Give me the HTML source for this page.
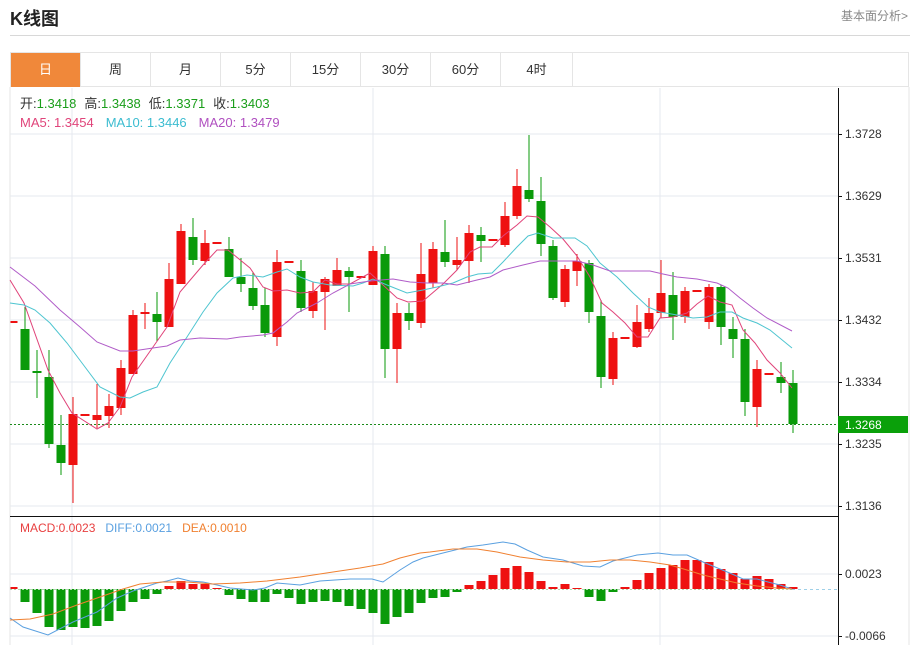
<!DOCTYPE html>
<html><head><meta charset="utf-8"><style>
html,body{margin:0;padding:0;background:#fff;width:916px;height:645px;overflow:hidden;font-family:"Liberation Sans","Noto Sans CJK SC",sans-serif}
#tit{position:absolute;left:10px;top:5px;font-size:18px;font-weight:bold;color:#222}
#more{position:absolute;right:8px;top:7px;font-size:12px;color:#888}
#sep{position:absolute;left:10px;top:35px;width:900px;height:1px;background:#d8d8d8}
#tabs{position:absolute;left:10px;top:52px;width:899px;height:35px;border:1px solid #e5e5e5;border-bottom:1px solid #e5e5e5;box-sizing:border-box}
.tab{position:absolute;top:0;height:34px;width:70px;border-right:1px solid #e5e5e5;text-align:center;line-height:34px;font-size:13px;color:#333;box-sizing:border-box}
svg{position:absolute;left:0;top:0}
</style></head><body>
<div id="tit">K线图</div><div id="more">基本面分析&gt;</div><div id="sep"></div>
<div id="tabs">
<div class="tab" style="left:0;background:#f0883a;color:#fff">日</div>
<div class="tab" style="left:70px">周</div><div class="tab" style="left:140px">月</div>
<div class="tab" style="left:210px">5分</div><div class="tab" style="left:280px">15分</div>
<div class="tab" style="left:350px">30分</div><div class="tab" style="left:420px">60分</div>
<div class="tab" style="left:490px;width:72px">4时</div>
</div>
<svg id="s" width="916" height="645" xmlns="http://www.w3.org/2000/svg" font-family="Liberation Sans, Noto Sans CJK SC, sans-serif"></svg>
<script>
var s=document.getElementById('s'),h='';
function L(x1,y1,x2,y2,c,w,d){h+='<line x1="'+x1+'" y1="'+y1+'" x2="'+x2+'" y2="'+y2+'" stroke="'+c+'" stroke-width="'+(w||1)+'"'+(d?' stroke-dasharray="'+d+'"':'')+'/>';}
function R(x,y,w,hh,c){h+='<rect x="'+x+'" y="'+y+'" width="'+w+'" height="'+hh+'" fill="'+c+'"/>';}
function T(x,y,t,c,sz,a){h+='<text x="'+x+'" y="'+y+'" fill="'+c+'" font-size="'+(sz||12)+'"'+(a?' text-anchor="'+a+'"':'')+'>'+t+'</text>';}
function P(pts,c){h+='<polyline fill="none" stroke="'+c+'" stroke-width="1" points="'+pts+'"/>';}
// frame
L(10,87,10,645,'#e5e5e5');L(909,87,909,645,'#e5e5e5');
var gc='#e6e9ef';
[134,196,258,320,382,444,506].forEach(function(y){L(10,y,838,y,gc)});
[574,636].forEach(function(y){L(10,y,838,y,gc)});
[72,373,660].forEach(function(x){L(x,88,x,645,gc)});
L(10,516.5,838,516.5,'#111');L(838.5,88,838.5,645,'#111');
var labs=[[134,'1.3728'],[196,'1.3629'],[258,'1.3531'],[320,'1.3432'],[382,'1.3334'],[444,'1.3235'],[506,'1.3136'],[574,'0.0023'],[636,'-0.0066']];
labs.forEach(function(l){L(838,l[0]+0.5,842,l[0]+0.5,'#111');T(845,l[0]+4,l[1],'#333',12)});
L(10,424.5,838,424.5,'#1a8a1a',1,'2,2');
R(838,416,70,17,'#0aa00a');T(845,429,'1.3268','#fff',12);
var RC='#ee1111',GC='#0a9a0a';
var c=[[-1,'r',321,323,321,323],[0,'g',329,370,307,370],[1,'g',371,373,350,398],[2,'g',377,444,350,448],[3,'g',445,463,415,475],[4,'r',414,465,397,503],[5,'r',414,416,414,416],[6,'r',415,420,384,428],[7,'r',406,416,394,428],[8,'r',368,408,360,415],[9,'r',315,374,310,374],[10,'r',312,314,303,329],[11,'g',314,322,292,341],[12,'r',279,327,263,327],[13,'r',231,284,224,284],[14,'g',237,260,218,265],[15,'r',243,261,230,265],[16,'r',242,244,242,244],[17,'g',249,277,237,277],[18,'g',277,284,258,292],[19,'g',288,306,272,310],[20,'g',305,333,288,337],[21,'r',262,337,250,346],[22,'r',261,263,261,263],[23,'g',271,308,260,312],[24,'r',291,311,282,318],[25,'r',279,292,277,330],[26,'r',270,286,258,286],[27,'g',271,277,267,312],[28,'r',276,278,276,278],[29,'r',251,285,246,285],[30,'g',254,349,246,378],[31,'r',313,349,303,383],[32,'g',313,321,303,330],[33,'r',274,323,243,328],[34,'r',249,283,242,288],[35,'g',252,262,220,267],[36,'r',260,265,237,270],[37,'r',233,261,225,283],[38,'g',235,241,227,262],[39,'r',239,241,239,241],[40,'r',216,245,202,247],[41,'r',186,216,169,219],[42,'g',190,199,135,202],[43,'g',201,244,177,256],[44,'g',246,298,240,300],[45,'r',269,302,265,307],[46,'r',261,271,254,286],[47,'g',263,312,260,323],[48,'g',316,377,300,388],[49,'r',338,379,332,385],[50,'r',337,339,337,339],[51,'r',322,347,305,348],[52,'r',313,329,298,332],[53,'r',293,313,260,318],[54,'g',295,317,272,340],[55,'r',291,317,287,323],[56,'r',290,292,290,292],[57,'r',287,322,284,329],[58,'g',287,327,285,345],[59,'g',329,339,317,358],[60,'g',339,402,329,416],[61,'r',369,407,360,427],[62,'r',373,375,373,375],[63,'g',377,383,362,393],[64,'g',383,424,370,433]];
c.forEach(function(k){var cx=25+12*k[0],col=k[1]=='r'?RC:GC;var x0=Math.max(cx-4.5,10.5);
L(cx,k[4],cx,k[5],col);R(x0,k[2],cx+4.5-x0,Math.max(k[3]-k[2],2),col);});
P('10,280 24,303 48,370 60,393 72,413 97,429 108,423 120,407 132,377 153,347 167,327 180,292 203,265 217,250 228,250 250,268 263,287 273,291 287,290 300,293 313,292 325,280 337,284 350,284 370,273 383,285 397,298 408,302 423,301 443,284 457,270 470,252 480,247 492,247 503,236 517,225 527,216 538,217 550,227 563,239 577,256 590,277 602,303 613,312 625,323 637,337 648,337 660,318 673,317 687,313 697,304 708,296 720,302 732,305 743,330 755,343 767,360 780,373 792,388','#e0447a');
P('10,303 24,305 35,310 50,323 67,343 82,363 100,387 120,397 130,398 143,392 157,387 170,363 187,337 203,312 217,293 233,278 247,275 263,277 277,272 287,269 300,277 313,282 330,285 353,286 363,283 373,279 387,285 407,293 423,290 437,287 453,283 467,277 478,274 492,273 503,262 517,247 528,236 538,233 553,238 575,238 587,246 600,263 617,277 633,293 648,307 660,312 677,315 693,318 707,317 720,312 732,312 743,318 757,323 770,330 792,348','#4ec5d0');
P('10,267 35,286 60,310 80,327 97,342 120,351 133,351 153,348 167,346 180,340 200,338 227,339 240,337 263,335 273,333 287,322 297,313 317,303 333,293 350,284 370,281 393,279 410,282 427,283 443,283 457,285 477,280 490,277 503,270 523,265 540,261 557,261 577,261 593,265 610,271 627,271 650,271 663,274 677,277 697,279 717,283 728,288 740,298 753,308 767,318 792,331','#b05cc8');
// MACD
L(792,589.5,838,589.5,'#9ed0e8',1,'3,3');
var z=589;
var m=[587,602,613,627,630,627,628,626,621,611,602,599,594,586,581,584,584,588,595,599,602,602,594,598,604,602,601,602,606,609,613,624,617,613,603,598,597,592,585,581,575,568,566,572,581,587,584,588,597,601,592,587,580,573,568,565,560,560,562,569,573,579,576,579,584,587];
m.forEach(function(v,j){var i=j-1,cx=25+12*i,x0=Math.max(cx-4.5,10.5);
if(v<z){R(x0,v,cx+4.5-x0,z-v,RC)}else{R(x0,z,cx+4.5-x0,v-z,GC)}});
L(10,589.5,792,589.5,'#b0d8b0',1,'2,2');
P('10,618 23,627 48,635 73,622 97,612 117,598 133,591 157,583 167,581 178,578 190,581 203,582 217,585 230,588 253,590 265,588 277,583 300,585 320,581 350,579 372,579 383,582 400,570 413,562 423,558 443,553 467,547 483,545 503,542 515,544 527,550 543,557 563,560 583,566 600,567 613,561 637,555 658,553 673,555 687,555 703,562 720,569 732,574 743,579 757,579 768,582 780,585 792,589','#5aa0e0');
P('10,620 30,619 53,614 77,605 100,597 123,589 140,584 163,582 187,582 213,584 240,583 267,581 300,577 333,572 360,568 383,564 400,558 420,553 430,552 453,549 477,549 497,552 520,557 543,560 567,562 590,562 610,560 630,560 650,562 670,565 687,570 703,575 720,579 737,583 757,586 777,588 792,589','#f08030');
// legends
h+='<text x="20" y="108" font-size="13"><tspan fill="#333">开:</tspan><tspan fill="#1a9e1a">1.3418</tspan><tspan fill="#333" dx="8">高:</tspan><tspan fill="#1a9e1a">1.3438</tspan><tspan fill="#333" dx="8">低:</tspan><tspan fill="#1a9e1a">1.3371</tspan><tspan fill="#333" dx="8">收:</tspan><tspan fill="#1a9e1a">1.3403</tspan></text>';
h+='<text x="20" y="127" font-size="13"><tspan fill="#e0447a">MA5: 1.3454</tspan><tspan fill="#3bbcd0" dx="12">MA10: 1.3446</tspan><tspan fill="#b050c0" dx="12">MA20: 1.3479</tspan></text>';
h+='<text x="20" y="532" font-size="12"><tspan fill="#e84040">MACD:0.0023</tspan><tspan fill="#5aa0e0" dx="10">DIFF:0.0021</tspan><tspan fill="#f08030" dx="10">DEA:0.0010</tspan></text>';
s.innerHTML=h;
</script>
</body></html>
